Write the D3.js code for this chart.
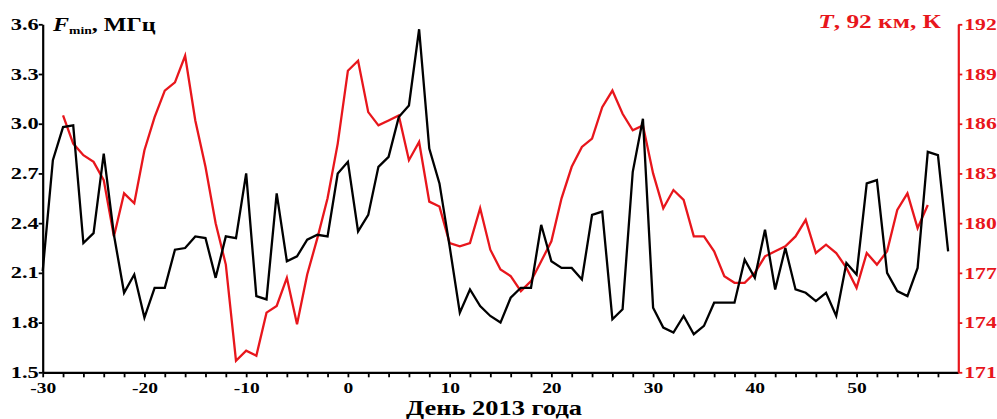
<!DOCTYPE html>
<html>
<head>
<meta charset="utf-8">
<script src="https://cdn.jsdelivr.net/npm/d3@7"></script>
<style>
    body { margin: 0; background: #fff; }
    svg text { font-family: "Liberation Serif", "Times New Roman", serif; font-weight: bold; }
</style>
</head>
<body>
<script>
// Fmin (MHz), one value per day starting at day -30
const fminFirstDay = -30;
const fminValues = [
    2.11, 2.78, 2.98, 2.99, 2.28, 2.34, 2.82, 2.33, 1.98, 2.09,
    1.83, 2.01, 2.01, 2.24, 2.25, 2.32, 2.31, 2.07, 2.32, 2.31,
    2.70, 1.96, 1.94, 2.58, 2.17, 2.20, 2.30, 2.33, 2.32, 2.70,
    2.77, 2.35, 2.45, 2.74, 2.80, 3.04, 3.11, 3.57, 2.85, 2.64,
    2.26, 1.86, 2.00, 1.90, 1.84, 1.80, 1.95, 2.01, 2.01, 2.39,
    2.17, 2.13, 2.13, 2.06, 2.45, 2.47, 1.82, 1.88, 2.71, 3.03,
    1.89, 1.77, 1.74, 1.84, 1.73, 1.78, 1.92, 1.92, 1.92, 2.18,
    2.07, 2.36, 2.00, 2.25, 2.00, 1.98, 1.93, 1.98, 1.84, 2.16,
    2.09, 2.64, 2.66, 2.10, 1.99, 1.96, 2.13, 2.83, 2.81, 2.23
];

// T at 92 km (K), one value per day starting at day -28
const tempFirstDay = -28;
const tempValues = [
    186.5, 184.8, 184.1, 183.7, 182.6, 179.2, 181.8, 181.2, 184.4, 186.4,
    188.0, 188.5, 190.1, 186.2, 183.4, 180.0, 177.5, 171.7, 172.3, 172.0,
    174.6, 175.0, 176.7, 173.9, 176.9, 179.1, 181.5, 184.8, 189.2, 189.8,
    186.7, 185.9, 186.2, 186.5, 183.8, 184.9, 181.3, 181.0, 178.8, 178.6,
    178.8, 180.9, 178.4, 177.2, 176.8, 175.9, 176.5, 177.7, 178.9, 181.5,
    183.4, 184.6, 185.1, 187.0, 188.0, 186.6, 185.6, 185.9, 183.0, 180.9,
    182.0, 181.4, 179.2, 179.2, 178.3, 176.8, 176.4, 176.4, 177.0, 178.0,
    178.3, 178.6, 179.2, 180.2, 178.2, 178.7, 178.2, 177.3, 176.1, 178.2,
    177.5, 178.3, 180.8, 181.8, 179.7, 181.1
];

// Tick labels
const dayTicks = [-30, -28, -26, -24, -22, -20, -18, -16, -14, -12, -10, -8, -6, -4, -2,
    0, 2, 4, 6, 8, 10, 12, 14, 16, 18, 20, 22, 24, 26, 28, 30, 32, 34, 36, 38,
    40, 42, 44, 46, 48, 50, 52, 54, 56, 58];
const dayLabels = [-30, -20, -10, 0, 10, 20, 30, 40, 50];
const fminTicks = [1.5, 1.8, 2.1, 2.4, 2.7, 3.0, 3.3, 3.6];
const tempTicks = [171, 174, 177, 180, 183, 186, 189, 192];

const red = "#e8161c";

const width = 997;
const height = 419;
const padding = {top: 24.3, right: 38.7, bottom: 46.7, left: 42.7};

const svg = d3.select("body").append("svg").attr("width", width).attr("height", height);

// the original figure is stretched sideways, so its lettering is wider than the font
function stretch(sel, s) {
    sel.each(function() {
        const t = d3.select(this);
        const x = +t.attr("x") || 0;
        t.attr("x", x / s).attr("transform", "scale(" + s + ",1)");
    });
}

//Scales
const xScale = d3.scaleLinear().domain([-30, 60]).range([padding.left, width - padding.right]);
const yLeft = d3.scaleLinear().domain([1.5, 3.6]).range([height - padding.bottom, padding.top]);
const yRight = d3.scaleLinear().domain([171, 192]).range([height - padding.bottom, padding.top]);

const fminData = fminValues.map((v, i) => ({day: fminFirstDay + i, v: v}));
const tempData = tempValues.map((v, i) => ({day: tempFirstDay + i, v: v}));

//Lines
const fminLine = d3.line().x((d) => xScale(d.day)).y((d) => yLeft(d.v));
const tempLine = d3.line().x((d) => xScale(d.day)).y((d) => yRight(d.v));

svg.append("path")
    .datum(tempData)
    .attr("d", tempLine)
    .attr("fill", "none")
    .attr("stroke", red)
    .attr("stroke-width", 2.3);

svg.append("path")
    .datum(fminData)
    .attr("d", fminLine)
    .attr("fill", "none")
    .attr("stroke", "#000")
    .attr("stroke-width", 2.3);

//Axes
const xAxis = d3.axisBottom(xScale)
    .tickValues(dayTicks)
    .tickSize(5)
    .tickSizeOuter(0)
    .tickPadding(5)
    .tickFormat((d) => dayLabels.includes(d) ? String(d) : "");

const leftAxis = d3.axisLeft(yLeft)
    .tickValues(fminTicks)
    .tickSize(4)
    .tickSizeOuter(0)
    .tickPadding(0)
    .tickFormat(d3.format(".1f"));

const rightAxis = d3.axisRight(yRight)
    .tickValues(tempTicks)
    .tickSize(4)
    .tickSizeOuter(0)
    .tickPadding(2)
    .tickFormat(d3.format("d"));

const gx = svg.append("g")
    .attr("transform", "translate(0," + (height - padding.bottom) + ")")
    .call(xAxis);

const gl = svg.append("g")
    .attr("transform", "translate(" + padding.left + ",0)")
    .call(leftAxis);

const gr = svg.append("g")
    .attr("transform", "translate(" + (width - padding.right) + ",0)")
    .call(rightAxis);

[gx, gl].forEach((g) => {
    g.select(".domain").attr("stroke", "#000").attr("stroke-width", 2.2);
    g.selectAll(".tick line").attr("stroke", "#000").attr("stroke-width", 1.8);
    g.selectAll(".tick text").attr("fill", "#000");
});
gr.select(".domain").attr("stroke", red).attr("stroke-width", 2.2);
gr.selectAll(".tick line").attr("stroke", red).attr("stroke-width", 1.8);
gr.selectAll(".tick text").attr("fill", red);

gx.selectAll(".tick text").style("font-size", "15px");
gl.selectAll(".tick text").style("font-size", "16px");
gr.selectAll(".tick text").style("font-size", "16px");
stretch(gx.selectAll(".tick text"), 1.3);
stretch(gl.selectAll(".tick text"), 1.4);
stretch(gr.selectAll(".tick text"), 1.35);

//Titles
const leftTitle = svg.append("text")
    .attr("x", 53)
    .attr("y", 31)
    .style("font-size", "18.5px")
    .attr("fill", "#000");
leftTitle.append("tspan").style("font-style", "italic").text("F");
leftTitle.append("tspan").attr("dy", 3).style("font-size", "10.5px").text("min");
leftTitle.append("tspan").attr("dy", -3).text(", МГц");
stretch(leftTitle, 1.3);

const rightTitle = svg.append("text")
    .attr("x", 941)
    .attr("y", 28.5)
    .attr("text-anchor", "end")
    .style("font-size", "19.5px")
    .attr("fill", red);
rightTitle.append("tspan").style("font-style", "italic").text("T");
rightTitle.append("tspan").text(", 92 км, К");
stretch(rightTitle, 1.3);

const xTitle = svg.append("text")
    .attr("x", 494)
    .attr("y", 415.5)
    .attr("text-anchor", "middle")
    .style("font-size", "21px")
    .attr("fill", "#000")
    .text("День 2013 года");
stretch(xTitle, 1.26);
</script>
</body>
</html>
